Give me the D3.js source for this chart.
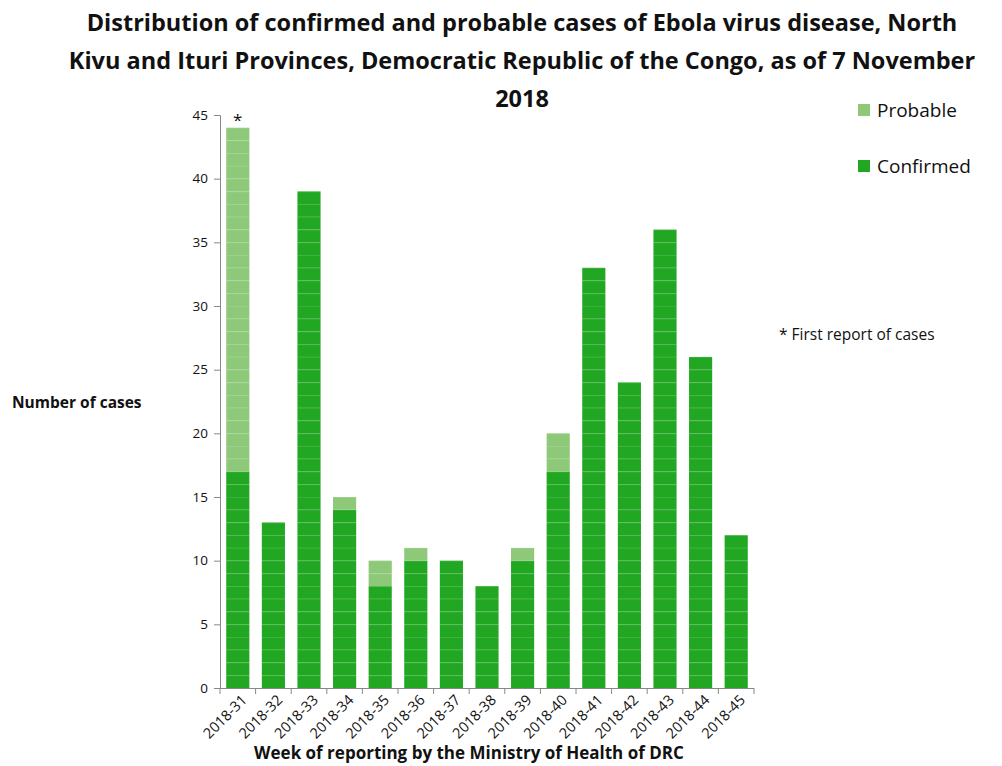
<!DOCTYPE html>
<html><head><meta charset="utf-8">
<script src="https://cdn.jsdelivr.net/npm/d3@7"></script>
<style>body{margin:0;background:#fff;} svg{display:block;}</style>
</head><body>
<script>
const weeks = ["2018-31","2018-32","2018-33","2018-34","2018-35","2018-36","2018-37","2018-38","2018-39","2018-40","2018-41","2018-42","2018-43","2018-44","2018-45"];
const confirmed = [17,13,39,14,8,10,10,8,10,17,33,24,36,26,12];
const probable  = [27,0,0,1,2,1,0,0,1,3,0,0,0,0,0];
const yTicks = [0,5,10,15,20,25,30,35,40,45];
const seriesNames = ["Probable","Confirmed"];
const colors = {Confirmed:"#22a722", Probable:"#8dc979"};

const W=1002,H=766;
const svg=d3.select("body").append("svg").attr("width",W).attr("height",H);
const font="'Open Sans', 'DejaVu Sans', sans-serif";

const x=d3.scaleBand().domain(weeks).range([220,754]).paddingInner(0.35).paddingOuter(0.175);
const y=d3.scaleLinear().domain([0,45]).range([688,115]);

// title
const titleLines=["Distribution of confirmed and probable cases of Ebola virus disease, North","Kivu and Ituri Provinces, Democratic Republic of the Congo, as of 7 November","2018"];
svg.append("g").selectAll("text").data(titleLines).join("text")
 .attr("x",522).attr("y",(d,i)=>31+i*38).attr("text-anchor","middle")
 .attr("font-family",font).attr("font-weight","bold").attr("font-size",23.5).attr("fill","#111").text(d=>d);

// bars as unit blocks
const units=[];
weeks.forEach((w,i)=>{
  for(let k=0;k<confirmed[i];k++) units.push({w,lo:k,s:"Confirmed"});
  for(let k=0;k<probable[i];k++) units.push({w,lo:confirmed[i]+k,s:"Probable"});
});
const g=svg.append("g");
g.selectAll("rect.u").data(units).join("rect").attr("class","u")
 .attr("x",d=>x(d.w)).attr("width",x.bandwidth())
 .attr("y",d=>y(d.lo+1)).attr("height",d=>y(d.lo)-y(d.lo+1))
 .attr("fill",d=>colors[d.s]);
g.selectAll("line.u").data(units).join("line").attr("class","u")
 .attr("x1",d=>x(d.w)).attr("x2",d=>x(d.w)+x.bandwidth())
 .attr("y1",d=>y(d.lo+1)+0.5).attr("y2",d=>y(d.lo+1)+0.5)
 .attr("stroke","#fff").attr("stroke-opacity",0.1).attr("stroke-width",1);

// y axis
const ya=svg.append("g").attr("transform","translate(220,0)")
 .call(d3.axisLeft(y).tickValues(yTicks).tickSize(6).tickPadding(6));
ya.selectAll("path,line").attr("stroke","#888");
ya.selectAll("text").attr("font-family",font).attr("font-size",13.5).attr("fill","#111");

// x axis with ticks at band boundaries
svg.append("line").attr("x1",220).attr("x2",754).attr("y1",688.5).attr("y2",688.5).attr("stroke","#888");
const bounds=weeks.map(w=>x(w)-x.step()*x.paddingInner()/2).concat([754]);
svg.append("g").selectAll("line").data(bounds).join("line")
 .attr("x1",d=>d).attr("x2",d=>d).attr("y1",688).attr("y2",694).attr("stroke","#888");
svg.append("g").selectAll("text").data(weeks).join("text")
 .attr("transform",d=>`translate(${x(d)+x.bandwidth()/2+10},${701}) rotate(-45)`)
 .attr("text-anchor","end").attr("font-family",font).attr("font-size",14.5).attr("fill","#111").text(d=>d);

// asterisk
svg.append("text").attr("x",x(weeks[0])+x.bandwidth()/2).attr("y",y(confirmed[0]+probable[0])-2)
 .attr("text-anchor","middle").attr("font-family",font).attr("font-size",17).attr("fill","#111").text("*");

// axis titles
svg.append("text").attr("x",12).attr("y",408).attr("font-family",font).attr("font-weight","bold").attr("font-size",15.5).attr("fill","#111").text("Number of cases");
svg.append("text").attr("x",469).attr("y",759).attr("text-anchor","middle").attr("font-family",font).attr("font-weight","bold").attr("font-size",17).attr("fill","#111").text("Week of reporting by the Ministry of Health of DRC");

// legend
const lg=svg.append("g").selectAll("g").data(seriesNames).join("g")
 .attr("transform",(d,i)=>`translate(858,${104+i*56})`);
lg.append("rect").attr("width",12).attr("height",12).attr("fill",d=>colors[d]);
lg.append("text").attr("x",19).attr("y",13).attr("font-family",font).attr("font-size",19).attr("fill","#111").text(d=>d);

svg.append("text").attr("x",779).attr("y",340).attr("font-family",font).attr("font-size",15.5).attr("fill","#111").text("* First report of cases");
</script>
</body></html>
